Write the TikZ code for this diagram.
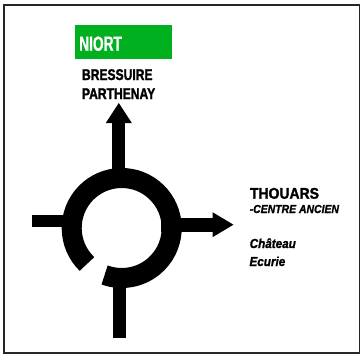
\documentclass[tikz,border=0pt]{standalone}
\usepackage{tikz}
\usetikzlibrary{arrows.meta}
\usepackage{xcolor}
\usepackage{fontspec}
\newfontfamily\signfont[FakeStretch=0.78, FakeBold=1.6]{Liberation Sans Bold}
\newfontfamily\widefont[FakeStretch=0.9, FakeBold=1.6]{Liberation Sans Bold}
\newfontfamily\niortfont[FakeStretch=0.67, FakeBold=0.8]{Liberation Sans Bold}
\newfontfamily\smallfont[FakeStretch=0.9, FakeBold=1.2]{Liberation Sans Bold Italic}
\definecolor{signgreen}{RGB}{0,176,30}

\begin{document}
\begin{tikzpicture}[x=1pt,y=-1pt,
        dest/.style={anchor=base west, inner sep=0pt, font=\signfont\fontsize{15.5}{18}\selectfont},
        sub/.style={anchor=base west, inner sep=0pt, font=\smallfont\fontsize{#1}{14}\selectfont},
        road/.style={line width=#1, black}]
                \useasboundingbox (0,0) rectangle (362,356);
                \draw[line width=1.8pt, black!85] (4,5) rectangle (359.5,352.8);

                % roundabout
                \coordinate (ctr) at (121.7,228);
                \draw[road=20pt] (ctr) ++(134:50) arc[start angle=134, end angle=470, radius=50];

                % exits
                \draw[road=13pt, -{Triangle[length=20pt, width=26pt, line width=0pt]}] (118.8,178) -- (118.8,103);
                \draw[road=14pt, -{Triangle[length=21pt, width=25pt, line width=0pt]}] (160.5,224.7) -- (233.5,224.7);
                \draw[road=12pt] (32,221) -- (70,221);
                \draw[road=13pt] (119.5,280) -- (119.5,338);

                % destinations
                \fill[signgreen] (75,25) rectangle (172,59);
                \node[anchor=base west, inner sep=0pt, text=white, font=\niortfont\fontsize{20.5}{22}\selectfont] (niort) at (79,50.7) {NIORT};
                \node[dest] (bressuire) at (81.8,80) {BRESSUIRE};
                \node[dest] (parthenay) at (81.8,99) {PARTHENAY};
                \node[dest, font=\widefont\fontsize{15.5}{18}\selectfont] (thouars) at (249.8,198.7) {THOUARS};
                \node[sub=11.6] (centre) at (249.5,213) {-CENTRE ANCIEN};
                \node[sub=13] (chateau) at (249.5,248) {Château};
                \node[sub=13] (ecurie) at (249.3,266) {Ecurie};
            \end{tikzpicture}
\end{document}
